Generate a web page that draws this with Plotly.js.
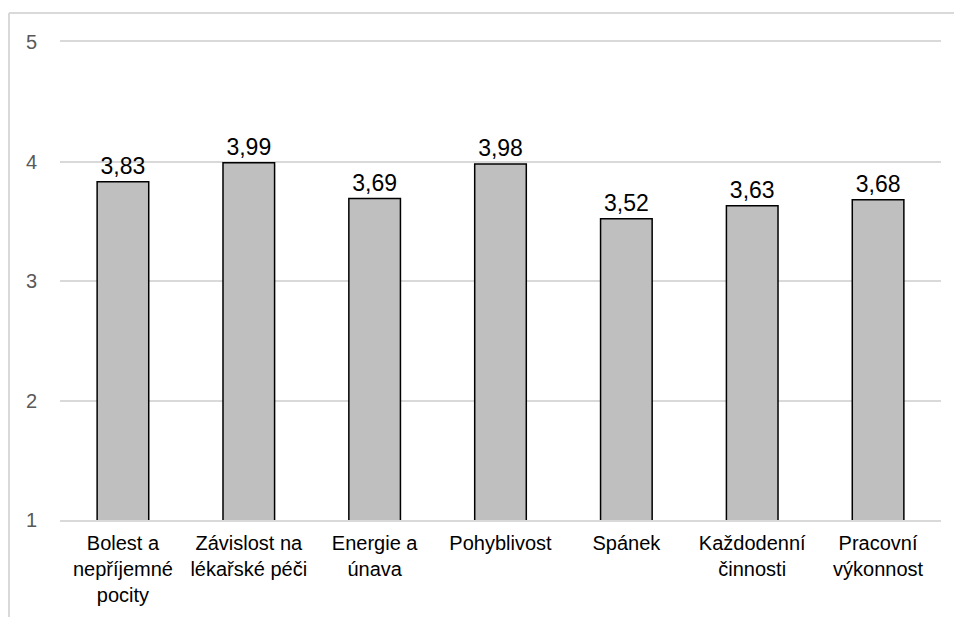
<!DOCTYPE html>
<html>
<head>
<meta charset="utf-8">
<script src="https://cdn.plot.ly/plotly-3.0.1.min.js"></script>
<style>
html,body{margin:0;padding:0;background:#fff;}
#chart{width:954px;height:617px;}
</style>
</head>
<body>
<div id="chart"></div>
<script>
const categories = [
  "Bolest a<br>nepříjemné<br>pocity",
  "Závislost na<br>lékařské péči",
  "Energie a<br>únava",
  "Pohyblivost",
  "Spánek",
  "Každodenní<br>činnosti",
  "Pracovní<br>výkonnost"
];
const values = [3.83, 3.99, 3.69, 3.98, 3.52, 3.63, 3.68];
const yTicks = [1, 2, 3, 4, 5];

const trace = {
  type: 'bar',
  x: categories,
  y: values,
  marker: {color: '#bfbfbf', line: {color: '#000000', width: 1.5}},
  texttemplate: '%{y:.2f}',
  textposition: 'outside',
  textfont: {family: 'Liberation Sans, Arial, sans-serif', size: 23, color: '#000000'},
  cliponaxis: false,
  hoverinfo: 'none'
};

const layout = {
  width: 954,
  height: 617,
  margin: {l: 60, r: 13, t: 42, b: 97},
  separators: ', ',
  paper_bgcolor: '#ffffff',
  plot_bgcolor: '#ffffff',
  font: {family: 'Liberation Sans, Arial, sans-serif', color: '#000000'},
  bargap: 0.59,
  showlegend: false,
  xaxis: {
    type: 'category',
    tickfont: {size: 20, color: '#000000'},
    showgrid: false,
    showline: true,
    mirror: true,
    linecolor: '#d9d9d9',
    linewidth: 2,
    ticks: '',
    ticklabelstandoff: 4
  },
  yaxis: {
    range: [1, 5],
    tickvals: yTicks,
    ticktext: yTicks.map(String),
    tickfont: {size: 20, color: '#595959'},
    showgrid: true,
    gridcolor: '#d9d9d9',
    gridwidth: 2,
    zeroline: false,
    showline: false,
    ticks: '',
    ticklabelstandoff: 22
  },
  shapes: [
    {type: 'line', xref: 'paper', yref: 'paper', x0: -0.0579, x1: -0.0579, y0: 1.0607, y1: -0.21, line: {color: '#d9d9d9', width: 2}},
    {type: 'line', xref: 'paper', yref: 'paper', x0: -0.0579, x1: 1.02, y0: 1.0607, y1: 1.0607, line: {color: '#d9d9d9', width: 2}}
  ]
};

Plotly.newPlot('chart', [trace], layout, {displayModeBar: false, staticPlot: true});
</script>
</body>
</html>
